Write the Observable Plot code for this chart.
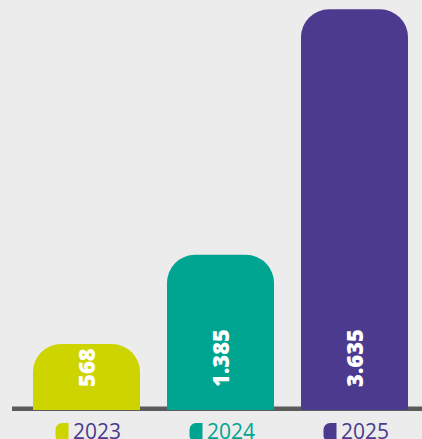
<!DOCTYPE html>
<html>
<head>
<meta charset="utf-8">
<script src="https://cdn.jsdelivr.net/npm/d3@7"></script>
<script src="https://cdn.jsdelivr.net/npm/@observablehq/plot@0.6"></script>
<style>
  html, body { margin: 0; padding: 0; background: #ececec; overflow: hidden; }
  #chart svg { display: block; }
</style>
</head>
<body>
<div id="chart"></div>
<script>
const years = ["2023", "2024", "2025"];
const values = [568, 1385, 3635];
const valueLabels = ["568", "1.385", "3.635"];
const barColors = ["#cdd400", "#00a591", "#4b3a8e"];
const legendTextColors = ["#4b3a8e", "#00a591", "#4b3a8e"];

const data = years.map((year, i) => ({
  year,
  value: values[i],
  label: valueLabels[i],
  color: barColors[i],
  textColor: legendTextColors[i]
}));

const swatch = {
  draw(context) {
    const w = 6.5, h = 9.5, r = 6.5;
    context.moveTo(w, -h);
    context.lineTo(w, h);
    context.lineTo(0, h);
    context.arc(0, h - r, r, Math.PI / 2, Math.PI);
    context.lineTo(-r, -h + r);
    context.arc(0, -h + r, r, Math.PI, 3 * Math.PI / 2);
    context.closePath();
  }
};

const chart = Plot.plot({
  width: 422,
  height: 439,
  marginLeft: 12,
  marginRight: 0,
  marginTop: 9,
  marginBottom: 33,
  style: { background: "#ececec", overflow: "visible" },
  x: { domain: years, range: [31.7, 409], paddingInner: 0.2, paddingOuter: 0, axis: null },
  y: { domain: [0, 3635], range: [406, 9.3], axis: null },
  color: { type: "identity" },
  marks: [
    Plot.ruleY([0], { stroke: "#5b5b5b", strokeWidth: 4.5, dy: 2.25 }),
    Plot.barY(data, { x: "year", y: "value", fill: "color", rx: 28, insetBottom: -4 }),
    Plot.barY(data, { x: "year", y: "value", fill: "color", insetTop: 28, insetBottom: -4 }),
    Plot.text(data, {
      x: "year", y: () => 0, text: "label", fill: "white",
      rotate: -90, textAnchor: "start", lineAnchor: "middle",
      fontSize: 22, fontWeight: 800, fontFamily: "'Open Sans', sans-serif",
      dy: -19.5, dx: 0.5
    }),
    Plot.dot(data, {
      x: "year", frameAnchor: "bottom", symbol: swatch, fill: "color", stroke: null,
      dx: -25, dy: 26
    }),
    Plot.text(data, {
      x: "year", frameAnchor: "bottom", text: "year", fill: "textColor",
      textAnchor: "start", lineAnchor: "middle", fontSize: 21, fontFamily: "'Open Sans', sans-serif",
      dx: -14, dy: 25.8
    })
  ]
});

document.getElementById("chart").appendChild(chart);
</script>
</body>
</html>
